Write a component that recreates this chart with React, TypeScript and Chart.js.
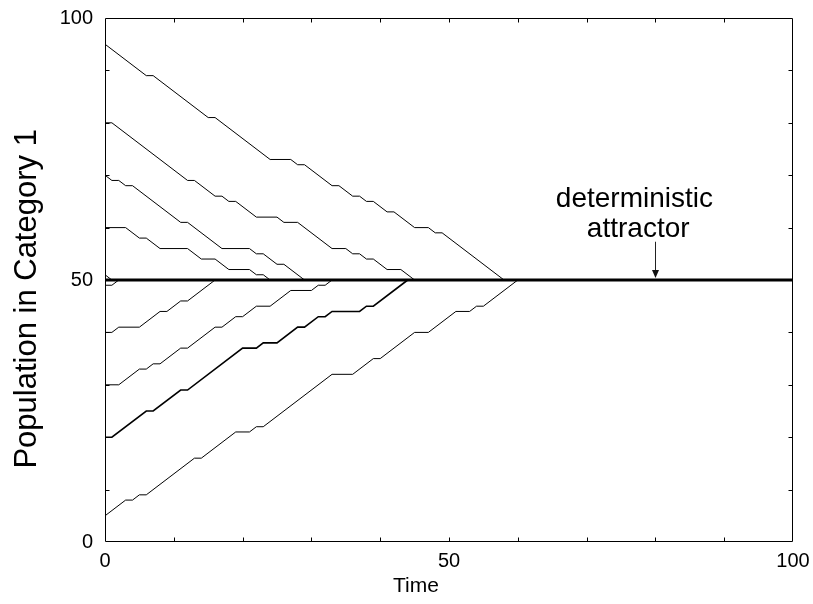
import React, { useEffect, useRef } from 'react';
import { Chart, registerables } from 'chart.js';

Chart.register(...registerables);

// ---- data (time, population) ----
const run95: [number, number][] = [[0,95],[6,89],[7,89],[15,81],[16,81],[24,73],[27,73],[28,72],[29,72],[33,68],[34,68],[36,66],[37,66],[38,65],[39,65],[41,63],[42,63],[45,60],[47,60],[48,59],[49,59],[58,50]];
const run80: [number, number][] = [[0,80],[1,80],[12,69],[13,69],[16,66],[17,66],[18,65],[19,65],[22,62],[25,62],[26,61],[28,61],[33,56],[35,56],[36,55],[37,55],[38,54],[39,54],[41,52],[43,52],[45,50]];
const run70: [number, number][] = [[0,70],[1,69],[2,69],[3,68],[4,68],[11,61],[12,61],[17,56],[21,56],[22,55],[23,55],[25,53],[26,53],[29,50]];
const run60: [number, number][] = [[0,60],[3,60],[5,58],[6,58],[8,56],[12,56],[14,54],[16,54],[18,52],[21,52],[22,51],[23,51],[24,50]];
const run51: [number, number][] = [[0,51],[1,50]];
const run49: [number, number][] = [[0,49],[1,49],[2,50]];
const run40: [number, number][] = [[0,40],[1,40],[2,41],[5,41],[8,44],[9,44],[11,46],[12,46],[16,50]];
const run30: [number, number][] = [[0,30],[2,30],[5,33],[6,33],[7,34],[8,34],[11,37],[12,37],[16,41],[17,41],[19,43],[20,43],[22,45],[24,45],[27,48],[30,48],[31,49],[32,49],[33,50]];
const run20: [number, number][] = [[0,20],[1,20],[6,25],[7,25],[11,29],[12,29],[20,37],[22,37],[23,38],[25,38],[28,41],[29,41],[31,43],[32,43],[33,44],[37,44],[38,45],[39,45],[44,50]];
const run5: [number, number][] = [[0,5],[3,8],[4,8],[5,9],[6,9],[13,16],[14,16],[19,21],[21,21],[22,22],[23,22],[33,32],[36,32],[39,35],[40,35],[45,40],[47,40],[51,44],[53,44],[54,45],[55,45],[60,50]];
const attractor: [number, number][] = [[0,50],[100,50]];

const xTickLabels = [0, 50, 100];
const yTickLabels = [0, 50, 100];
const xTitle = 'Time';
const yTitle = 'Population in Category 1';

const annotationText = ['deterministic', 'attractor'];
const annotationAt: [number, number][] = [[76.95, 64], [77.5, 58.2]];
const arrowFrom: [number, number] = [80, 57.3];
const arrowTo: [number, number] = [80, 50.4];

const FONT = "'Liberation Sans', Arial, Helvetica, sans-serif";

const framePlugin = {
  id: 'frameTicks',
  afterDatasetsDraw(chart: any) {
    const { ctx, chartArea: a, scales } = chart;
    const xs = scales.x, ys = scales.y;
    ctx.save();
    ctx.strokeStyle = '#000';
    ctx.lineWidth = 1;
    const L = a.left + 0.5, R = a.right - 0.5, T = a.top + 0.5, B = a.bottom - 0.5;
    ctx.beginPath();
    ctx.rect(L, T, R - L, B - T);
    ctx.stroke();
    const len = 4;
    ctx.beginPath();
    for (let v = 10; v < 100; v += 10) {
      const px = Math.round(xs.getPixelForValue(v)) + 0.5;
      ctx.moveTo(px, B); ctx.lineTo(px, B - len);
      ctx.moveTo(px, T); ctx.lineTo(px, T + len);
      const py = Math.round(ys.getPixelForValue(v)) + 0.5;
      ctx.moveTo(L, py); ctx.lineTo(L + len, py);
      ctx.moveTo(R, py); ctx.lineTo(R - len, py);
    }
    ctx.stroke();
    ctx.restore();
  },
};

const titlesPlugin = {
  id: 'axisTitles',
  afterDraw(chart: any) {
    const { ctx, chartArea: a } = chart;
    ctx.save();
    ctx.fillStyle = '#000';
    ctx.textAlign = 'center';
    ctx.textBaseline = 'middle';
    ctx.font = `21px ${FONT}`;
    ctx.fillText(xTitle, a.left + (a.right - a.left) * 0.452, a.bottom + 44);
    ctx.translate(27, a.top + (a.bottom - a.top) * 0.536);
    ctx.rotate(-Math.PI / 2);
    ctx.font = `31px ${FONT}`;
    ctx.fillText(yTitle, 0, 0);
    ctx.restore();
  },
};

const annotationPlugin = {
  id: 'attractorNote',
  afterDatasetsDraw(chart: any) {
    const { ctx, scales } = chart;
    const xs = scales.x, ys = scales.y;
    ctx.save();
    ctx.fillStyle = '#000';
    ctx.font = `28px ${FONT}`;
    ctx.textAlign = 'center';
    ctx.textBaseline = 'alphabetic';
    annotationText.forEach((t, i) => {
      ctx.fillText(t, xs.getPixelForValue(annotationAt[i][0]), ys.getPixelForValue(annotationAt[i][1]));
    });
    const ax = Math.round(xs.getPixelForValue(arrowFrom[0])) + 0.5;
    const y1 = ys.getPixelForValue(arrowFrom[1]);
    const y2 = ys.getPixelForValue(arrowTo[1]);
    ctx.strokeStyle = '#222';
    ctx.lineWidth = 1;
    ctx.beginPath();
    ctx.moveTo(ax, y1);
    ctx.lineTo(ax, y2 - 6);
    ctx.stroke();
    ctx.fillStyle = '#111';
    ctx.beginPath();
    ctx.moveTo(ax, y2);
    ctx.lineTo(ax - 3.5, y2 - 8);
    ctx.lineTo(ax + 3.5, y2 - 8);
    ctx.closePath();
    ctx.fill();
    ctx.restore();
  },
};

export default function App() {
  const ref = useRef<HTMLCanvasElement>(null);
  useEffect(() => {
    if (!ref.current) return;
    const pts = (arr: [number, number][]) => arr.map(([x, y]) => ({ x, y }));
    const ds = (arr: [number, number][], w = 1) => ({
      data: pts(arr),
      borderColor: '#000',
      borderWidth: w,
      pointRadius: 0,
      tension: 0,
      fill: false,
    });
    const chart = new Chart(ref.current, {
      type: 'line',
      data: {
        datasets: [
          ds(attractor, 3),
          ds(run95),
          ds(run80),
          ds(run70),
          ds(run60),
          ds(run51),
          ds(run49),
          ds(run40),
          ds(run30),
          ds(run20, 1.6),
          ds(run5),
        ] as any,
      },
      options: {
        animation: false,
        responsive: false,
        devicePixelRatio: 1,
        events: [],
        layout: { padding: { top: 18, right: 20, left: 0, bottom: 0 } },
        plugins: { legend: { display: false }, tooltip: { enabled: false } },
        scales: {
          x: {
            type: 'linear',
            min: 0,
            max: 100,
            grid: { display: false, drawTicks: false },
            border: { display: false },
            ticks: {
              stepSize: 10,
              autoSkip: false,
              maxRotation: 0,
              padding: 7,
              color: '#000',
              font: { family: FONT, size: 20 },
              callback: (v: any) => (xTickLabels.includes(Number(v)) ? String(v) : ''),
            },
            title: { display: false },
            afterFit: (s: any) => { s.height = 62; s.paddingLeft = 0; s.paddingRight = 0; },
          },
          y: {
            type: 'linear',
            min: 0,
            max: 100,
            grid: { display: false, drawTicks: false },
            border: { display: false },
            ticks: {
              stepSize: 10,
              autoSkip: false,
              padding: 12,
              color: '#000',
              font: { family: FONT, size: 20 },
              callback: (v: any) => (yTickLabels.includes(Number(v)) ? String(v) : ''),
            },
            title: { display: false },
            afterFit: (s: any) => { s.width = 105; s.paddingTop = 0; s.paddingBottom = 0; },
          },
        },
      } as any,
      plugins: [framePlugin, annotationPlugin, titlesPlugin],
    });
    return () => chart.destroy();
  }, []);
  return (
    <div style={{ position: 'fixed', left: 0, top: 0, width: 813, height: 604, background: '#fff' }}>
      <canvas ref={ref} width={813} height={604} style={{ display: 'block', width: 813, height: 604 }} />
    </div>
  );
}
